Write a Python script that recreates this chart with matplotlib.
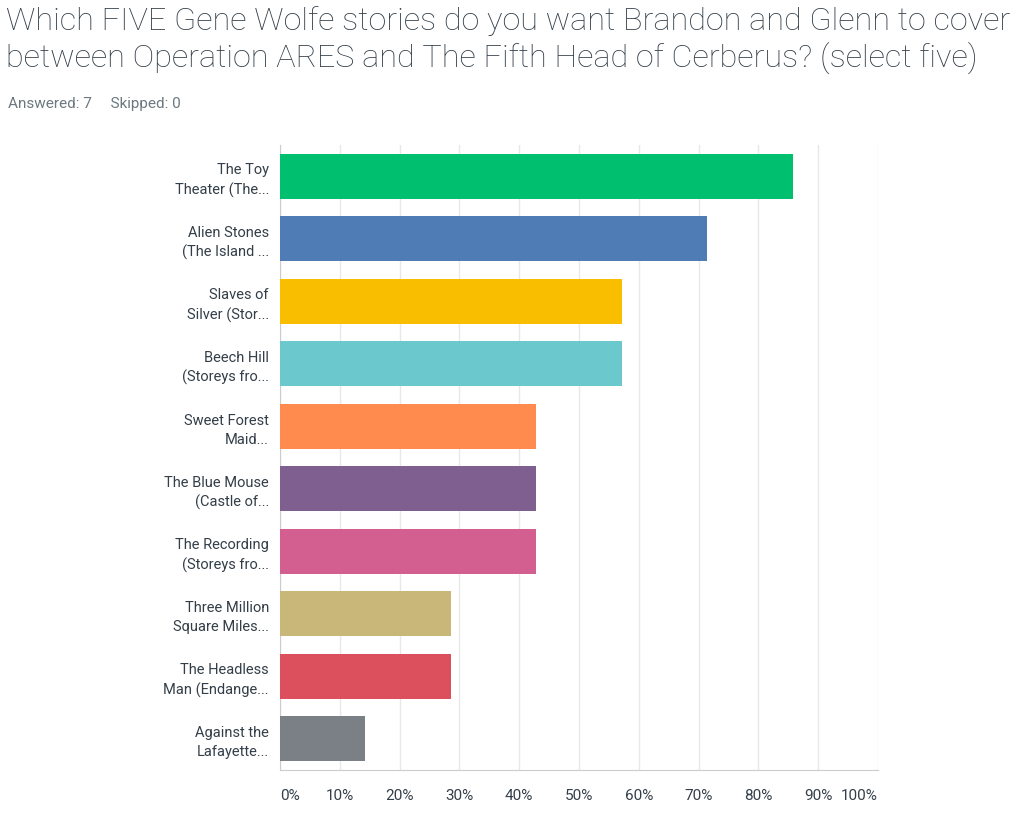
import matplotlib

matplotlib.use("Agg")
import matplotlib.pyplot as plt

labels = [
    "The Toy\nTheater (The...", "Alien Stones\n(The Island ...", "Slaves of\nSilver (Stor...",
    "Beech Hill\n(Storeys fro...", "Sweet Forest\nMaid...", "The Blue Mouse\n(Castle of...",
    "The Recording\n(Storeys fro...", "Three Million\nSquare Miles...",
    "The Headless\nMan (Endange...", "Against the\nLafayette...",
]
values = [85.71, 71.43, 57.14, 57.14, 42.86, 42.86, 42.86, 28.57, 28.57, 14.29]
colors = ["#00bf6f", "#507cb6", "#f9be00", "#6bc8cd", "#ff8b4f",
          "#7f5f90", "#d25f90", "#c9b77a", "#dc4f5d", "#7a8086"]
ticks = list(range(0, 101, 10))

plt.rcParams["font.family"] = ["Roboto", "DejaVu Sans"]

W, H = 1031, 815
fig = plt.figure(figsize=(W / 100, H / 100), dpi=100)
fig.patch.set_facecolor("white")

fig.text(6 / W, 1 - 6 / H,
         "Which FIVE Gene Wolfe stories do you want Brandon and Glenn to cover\n"
         "between Operation ARES and The Fifth Head of Cerberus? (select five)",
         fontsize=23.3, fontweight="light", color="#333e48", va="top", linespacing=1.25)
fig.text(8 / W, 1 - 104 / H, "Answered: 7     Skipped: 0", fontsize=11,
         color="#6b787f", va="center")

ax = fig.add_axes([280 / W, 1 - 770 / H, 598 / W, 625 / H])
ys = list(range(len(values)))
ax.barh(ys, values, height=0.72, color=colors, zorder=3)
ax.set_ylim(len(values) - 0.5, -0.5)
ax.set_xlim(0, 100)
ax.set_xticks(ticks)
ax.set_xticklabels([f"{t}%" for t in ticks], fontsize=11, color="#333e48")
tl = ax.get_xticklabels()
tl[0].set_ha("left")
tl[-1].set_ha("right")
ax.set_yticks(ys)
ax.set_yticklabels(labels, fontsize=10.5, color="#333e48", linespacing=1.45)
ax.tick_params(axis="y", length=0, pad=8)
ax.tick_params(axis="x", length=0, pad=14)
ax.grid(axis="x", color="#e8e8e8", linewidth=1, zorder=0)
for s in ("top", "right"):
    ax.spines[s].set_visible(False)
for s in ("left", "bottom"):
    ax.spines[s].set_color("#cccccc")

fig.savefig("out.png", dpi=100, facecolor="white")
